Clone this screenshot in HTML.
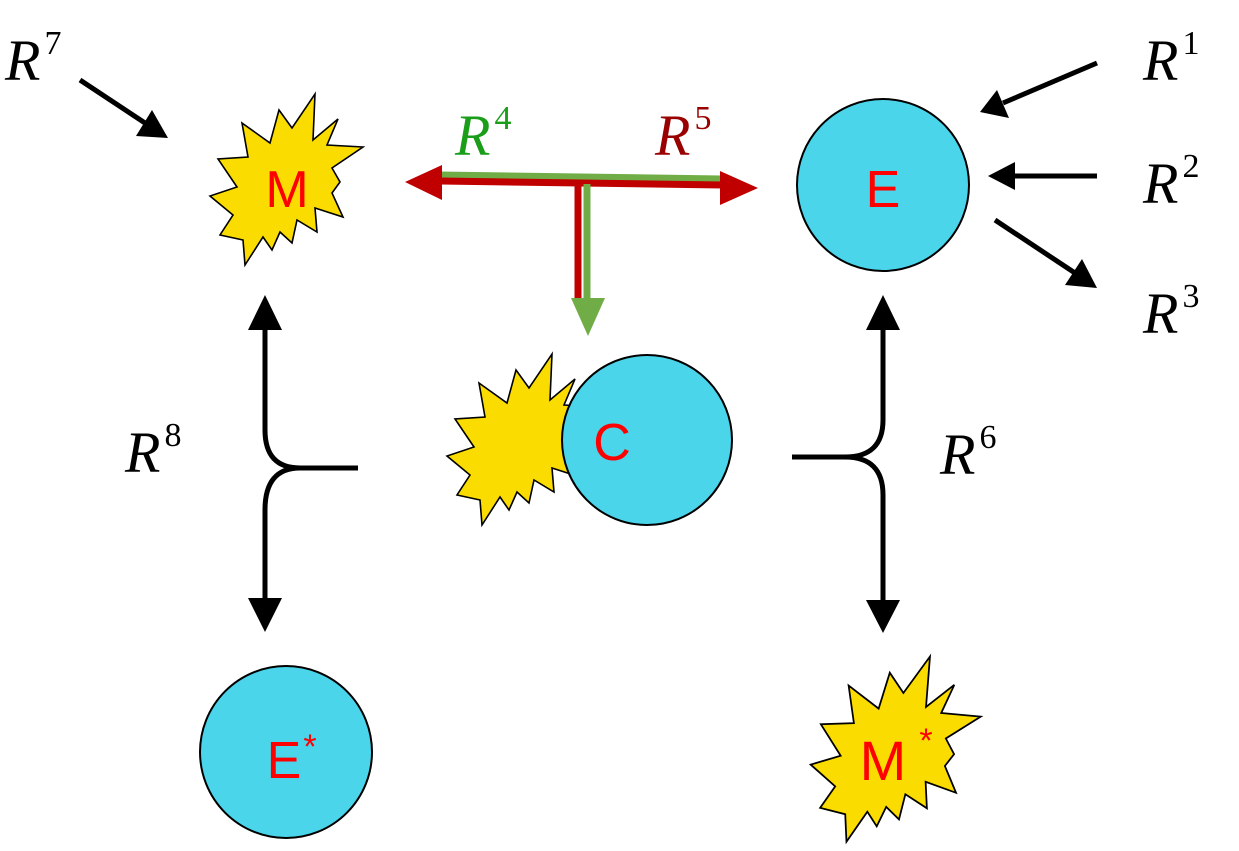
<!DOCTYPE html>
<html><head><meta charset="utf-8"><style>
body{margin:0;background:#fff;}
svg text{font-family:"Liberation Serif",serif;font-style:italic;}
.lbl{font-family:"Liberation Sans",sans-serif;font-style:normal;fill:#f00;}
.sup{font-style:normal;}
</style></head><body>
<svg width="1239" height="846" viewBox="0 0 1239 846" xmlns="http://www.w3.org/2000/svg">
<defs>
<polygon id="star" points="315,94 313,140 338,119 327,145 363,147 332,168 340,182 332,193 343,217 315,208 317,232 297,220 292,243 280,232 272,250 263,237 245,265 243,240 220,235 233,215 210,196 237,187 218,159 248,157 242,123 270,143 279,110 292,128" fill="#fbdc00" stroke="#000" stroke-width="1.6" stroke-linejoin="miter"/>
</defs>
<use href="#star"/>
<text x="287" y="207" class="lbl" font-size="52" text-anchor="middle">M</text>
<use href="#star" transform="translate(237,260)"/>
<circle cx="647" cy="440" r="85" fill="#4bd5eb" stroke="#000" stroke-width="2"/>
<text x="612" y="460" class="lbl" font-size="52" text-anchor="middle">C</text>
<circle cx="883" cy="185" r="86" fill="#4bd5eb" stroke="#000" stroke-width="2"/>
<text x="883" y="207" class="lbl" font-size="52" text-anchor="middle">E</text>
<circle cx="286" cy="752" r="86" fill="#4bd5eb" stroke="#000" stroke-width="2"/>
<text x="284" y="778" class="lbl" font-size="52" text-anchor="middle">E</text>
<text x="310" y="758" class="lbl" font-size="34" text-anchor="middle">*</text>
<use href="#star" transform="translate(897,750) rotate(2) scale(1.1) translate(-288,-180)"/>
<text x="883" y="780" class="lbl" font-size="56" text-anchor="middle">M</text>
<text x="926" y="752" class="lbl" font-size="34" text-anchor="middle">*</text>

<g stroke="#000" stroke-width="5" fill="none">
<line x1="80" y1="80" x2="145" y2="123"/>
<line x1="1097" y1="63" x2="1003" y2="103"/>
<line x1="1097" y1="176" x2="1010" y2="176"/>
<line x1="995" y1="220" x2="1075" y2="273"/>
<path d="M265,325 L265,430 Q265,468 300,468 L358,468 M300,468 Q265,468 265,510 L265,600"/>
<path d="M792,457 L845,457 Q883,457 883,420 L883,325 M845,457 Q883,457 883,495 L883,603"/>
</g>
<g fill="#000">
<polygon points="168,138 136,136 152,110"/>
<polygon points="980,112 997,90 1009,118"/>
<polygon points="988,176 1015,162 1015,190"/>
<polygon points="1097,288 1065,285 1082,259"/>
<polygon points="265,295 248,330 282,330"/>
<polygon points="265,632 248,598 282,598"/>
<polygon points="883,295 866,330 900,330"/>
<polygon points="883,633 866,600 900,600"/>
</g>
<line x1="440" y1="175" x2="722" y2="179" stroke="#70ad47" stroke-width="7"/>
<line x1="440" y1="181" x2="722" y2="185" stroke="#c00000" stroke-width="7"/>
<line x1="578" y1="184" x2="578" y2="300" stroke="#c00000" stroke-width="7"/>
<line x1="587" y1="184" x2="587" y2="300" stroke="#70ad47" stroke-width="7"/>
<polygon points="405,182 442,165 442,200" fill="#c00000"/>
<polygon points="758,188 720,171 720,205" fill="#c00000"/>
<polygon points="588,336 571,298 605,298" fill="#70ad47"/>

<g font-size="58">
<text x="5" y="80">R<tspan class="sup" font-size="34" dx="4" dy="-26">7</tspan></text>
<text x="125" y="472">R<tspan class="sup" font-size="34" dx="4" dy="-26">8</tspan></text>
<text x="455" y="155" fill="#1a9e1a">R<tspan class="sup" font-size="34" dx="4" dy="-26">4</tspan></text>
<text x="655" y="155" fill="#990000">R<tspan class="sup" font-size="34" dx="4" dy="-26">5</tspan></text>
<text x="1143" y="80">R<tspan class="sup" font-size="34" dx="4" dy="-26">1</tspan></text>
<text x="1143" y="203">R<tspan class="sup" font-size="34" dx="4" dy="-26">2</tspan></text>
<text x="1143" y="333">R<tspan class="sup" font-size="34" dx="4" dy="-26">3</tspan></text>
<text x="940" y="474">R<tspan class="sup" font-size="34" dx="4" dy="-26">6</tspan></text>
</g>
</svg>
</body></html>
